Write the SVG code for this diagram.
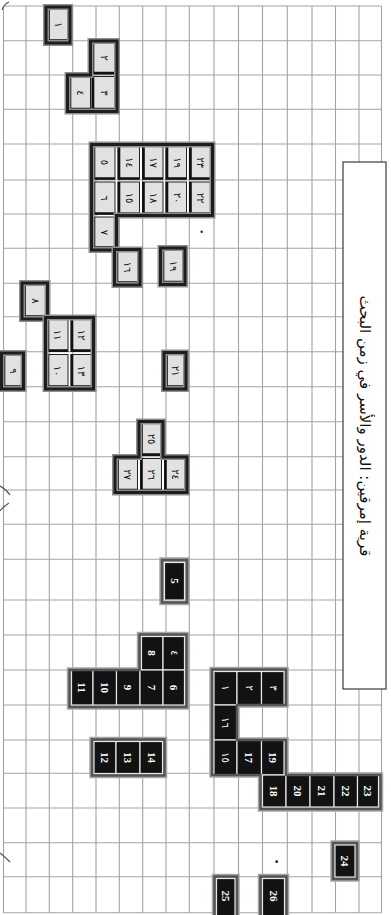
<svg xmlns="http://www.w3.org/2000/svg" width="391" height="915" viewBox="0 0 391 915">
<defs>
<style>
.g line{stroke:#a3a3a3;stroke-width:1.1}
.halo{fill:none;stroke:#8e8e8e;stroke-width:6;stroke-linejoin:miter}
.ob{fill:none;stroke:#1e1e1e;stroke-width:3;stroke-linejoin:miter}
.ct{fill:#e1e1e1;stroke:#222;stroke-width:1}
.sh{fill:none;stroke:#111;stroke-width:2.6}
.hb{fill:none;stroke:#a6a6a6;stroke-width:5.5}
.obb{fill:none;stroke:#555;stroke-width:2.5}
.cb{fill:#121212;stroke:#e8e8e8;stroke-width:1.2}
.ta{font-family:"DejaVu Sans",sans-serif;font-size:10px;fill:#111;text-anchor:middle;dominant-baseline:central}
.tb{font-family:"Liberation Serif",serif;font-weight:bold;font-size:11px;fill:#fff;text-anchor:middle;dominant-baseline:central}
.tbr{font-family:"DejaVu Sans",sans-serif;font-size:10px;fill:#fff;text-anchor:middle;dominant-baseline:central}
.title{font-family:"DejaVu Sans",sans-serif;font-size:15px;fill:#111;text-anchor:middle;dominant-baseline:central}
.mk{fill:none;stroke:#555;stroke-width:1.2}
</style>
</defs>
<rect width="391" height="915" fill="#fff"/>
<g id="grid" class="g">
<line x1="3.5" y1="6" x2="3.5" y2="912.7"/><line x1="26" y1="6" x2="26" y2="912.7"/><line x1="49.3" y1="6" x2="49.3" y2="912.7"/><line x1="72.7" y1="6" x2="72.7" y2="912.7"/><line x1="96" y1="6" x2="96" y2="912.7"/><line x1="119.3" y1="6" x2="119.3" y2="912.7"/><line x1="142.7" y1="6" x2="142.7" y2="912.7"/><line x1="166" y1="6" x2="166" y2="912.7"/><line x1="189.3" y1="6" x2="189.3" y2="912.7"/><line x1="214" y1="6" x2="214" y2="912.7"/><line x1="238.5" y1="6" x2="238.5" y2="912.7"/><line x1="262.5" y1="6" x2="262.5" y2="912.7"/><line x1="287.3" y1="6" x2="287.3" y2="912.7"/><line x1="312" y1="6" x2="312" y2="912.7"/><line x1="335.5" y1="6" x2="335.5" y2="912.7"/><line x1="359" y1="6" x2="359" y2="912.7"/><line x1="381.5" y1="6" x2="381.5" y2="912.7"/>
<line x1="3.5" y1="6" x2="381.5" y2="6"/><line x1="3.5" y1="40.7" x2="381.5" y2="40.7"/><line x1="3.5" y1="75" x2="381.5" y2="75"/><line x1="3.5" y1="109.3" x2="381.5" y2="109.3"/><line x1="3.5" y1="144" x2="381.5" y2="144"/><line x1="3.5" y1="180" x2="381.5" y2="180"/><line x1="3.5" y1="214" x2="381.5" y2="214"/><line x1="3.5" y1="248.3" x2="381.5" y2="248.3"/><line x1="3.5" y1="283.3" x2="381.5" y2="283.3"/><line x1="3.5" y1="316.7" x2="381.5" y2="316.7"/><line x1="3.5" y1="351.7" x2="381.5" y2="351.7"/><line x1="3.5" y1="386.7" x2="381.5" y2="386.7"/><line x1="3.5" y1="421.7" x2="381.5" y2="421.7"/><line x1="3.5" y1="456.7" x2="381.5" y2="456.7"/><line x1="3.5" y1="490" x2="381.5" y2="490"/><line x1="3.5" y1="524.3" x2="381.5" y2="524.3"/><line x1="3.5" y1="559.3" x2="381.5" y2="559.3"/><line x1="3.5" y1="600" x2="381.5" y2="600"/><line x1="3.5" y1="635" x2="381.5" y2="635"/><line x1="3.5" y1="670" x2="381.5" y2="670"/><line x1="3.5" y1="705" x2="381.5" y2="705"/><line x1="3.5" y1="740" x2="381.5" y2="740"/><line x1="3.5" y1="773.3" x2="381.5" y2="773.3"/><line x1="3.5" y1="808" x2="381.5" y2="808"/><line x1="3.5" y1="842.7" x2="381.5" y2="842.7"/><line x1="3.5" y1="876.7" x2="381.5" y2="876.7"/><line x1="3.5" y1="912.7" x2="381.5" y2="912.7"/>
</g>
<g id="marks">
<path class="mk" d="M2,10 Q4,4 9,2"/>
<path class="mk" d="M0,486 Q6,489 10,495"/>
<path class="mk" d="M0,511 Q4,506 9,503"/>
<path class="mk" d="M0,853 Q5,857 10,862"/>
<circle cx="201.7" cy="231.7" r="1.3" fill="#333"/>
<circle cx="276.7" cy="861.7" r="1.4" fill="#222"/>
</g>
<g id="title">
<rect x="343" y="162" width="43" height="527" fill="#fff" stroke="#3a3a3a" stroke-width="1.2"/>
<text class="title" transform="translate(365,426) rotate(90)">قرية إمرقين: الدور والأسر في زمن البحث</text>
</g>
<g id="top-houses">
<g id="h1">
<rect class="ct" x="47.5" y="8.5" width="21" height="33"/><path class="sh" d="M48.5,8.5V40.5H68.5"/>
<path class="halo" d="M46,7H70V43H46Z"/><path class="ob" d="M46,7H70V43H46Z"/>
<text class="ta" transform="translate(58.5,25) rotate(90)">١</text>
</g>
<g id="h2-4">
<rect class="ct" x="92" y="42.5" width="23.5" height="31.5"/><path class="sh" d="M93,42.5V73H115.5"/>
<rect class="ct" x="69" y="76.5" width="21.5" height="33.5"/><path class="sh" d="M70,76.5V109H90.5"/>
<rect class="ct" x="92" y="76.5" width="23.5" height="33.5"/><path class="sh" d="M93,76.5V109H115.5"/>
<path class="halo" d="M90.5,41H117V111.5H67.5V75H90.5Z"/><path class="ob" d="M90.5,41H117V111.5H67.5V75H90.5Z"/>
<text class="ta" transform="translate(104,58) rotate(90)">٢</text>
<text class="ta" transform="translate(80,93) rotate(90)">٤</text>
<text class="ta" transform="translate(104,93) rotate(90)">٣</text>
</g>
<g id="h5-23">
<rect class="ct" x="93" y="146" width="22" height="33"/><path class="sh" d="M94,146V178.5H115"/>
<rect class="ct" x="93" y="182" width="22" height="32"/><path class="sh" d="M94,182V213.5H115"/>
<rect class="ct" x="93" y="217" width="22" height="31.5"/><path class="sh" d="M94,217V247.5H115"/>
<rect class="ct" x="118" y="146" width="21.5" height="33"/><path class="sh" d="M119,146V178.5H139.5"/>
<rect class="ct" x="118" y="182" width="21.5" height="32"/><path class="sh" d="M119,182V213.5H139.5"/>
<rect class="ct" x="142.5" y="146" width="20.5" height="33"/><path class="sh" d="M143.5,146V178.5H163"/>
<rect class="ct" x="142.5" y="182" width="20.5" height="32"/><path class="sh" d="M143.5,182V213.5H163"/>
<rect class="ct" x="166" y="146" width="20.5" height="33"/><path class="sh" d="M167,146V178.5H186.5"/>
<rect class="ct" x="166" y="182" width="20.5" height="32"/><path class="sh" d="M167,182V213.5H186.5"/>
<rect class="ct" x="189.5" y="146" width="21.5" height="33"/><path class="sh" d="M190.5,146V178.5H211"/>
<rect class="ct" x="189.5" y="182" width="21.5" height="32"/><path class="sh" d="M190.5,182V213.5H211"/>
<path class="halo" d="M91.5,144.5H212.5V215.5H116.5V250H91.5Z"/><path class="ob" d="M91.5,144.5H212.5V215.5H116.5V250H91.5Z"/>
<text class="ta" transform="translate(104.5,162.5) rotate(90)">٥</text>
<text class="ta" transform="translate(104.5,198) rotate(90)">٦</text>
<text class="ta" transform="translate(104.5,232.5) rotate(90)">٧</text>
<text class="ta" transform="translate(129.5,162.5) rotate(90)">١٤</text>
<text class="ta" transform="translate(129.5,198) rotate(90)">١٥</text>
<text class="ta" transform="translate(153.5,162.5) rotate(90)">١٧</text>
<text class="ta" transform="translate(153.5,198) rotate(90)">١٨</text>
<text class="ta" transform="translate(177,162.5) rotate(90)">١٩</text>
<text class="ta" transform="translate(177,198) rotate(90)">٢٠</text>
<text class="ta" transform="translate(200.5,162.5) rotate(90)">٢٣</text>
<text class="ta" transform="translate(200.5,198) rotate(90)">٢٢</text>
</g>
<g id="h16">
<rect class="ct" x="116" y="251" width="22.5" height="32.5"/><path class="sh" d="M117,251V282.5H138.5"/>
<path class="halo" d="M114.5,249.5H140V285H114.5Z"/><path class="ob" d="M114.5,249.5H140V285H114.5Z"/>
<text class="ta" transform="translate(127.5,267) rotate(90)">١٦</text>
</g>
<g id="h24a">
<rect class="ct" x="162" y="249.5" width="21.5" height="33.5"/><path class="sh" d="M163,249.5V282H183.5"/>
<path class="halo" d="M160.5,248H185V284.5H160.5Z"/><path class="ob" d="M160.5,248H185V284.5H160.5Z"/>
<text class="ta" transform="translate(173,266) rotate(90)">١٩</text>
</g>
<g id="h8">
<rect class="ct" x="23.5" y="284.5" width="22.5" height="33"/><path class="sh" d="M24.5,284.5V316.5H46"/>
<path class="halo" d="M22,283H47.5V319H22Z"/><path class="ob" d="M22,283H47.5V319H22Z"/>
<text class="ta" transform="translate(35,301) rotate(90)">٨</text>
</g>
<g id="h9">
<rect class="ct" x="3" y="354.5" width="19" height="33"/><path class="sh" d="M4,354.5V386.5H22"/>
<path class="halo" d="M1.5,353H23.5V389H1.5Z"/><path class="ob" d="M1.5,353H23.5V389H1.5Z"/>
<text class="ta" transform="translate(13,371) rotate(90)">٩</text>
</g>
<g id="h10-13">
<rect class="ct" x="47" y="319" width="21" height="32.5"/><path class="sh" d="M48,319V350.5H68"/>
<rect class="ct" x="71" y="319" width="21" height="32.5"/><path class="sh" d="M72,319V350.5H92"/>
<rect class="ct" x="47" y="354.5" width="21" height="33"/><path class="sh" d="M48,354.5V386.5H68"/>
<rect class="ct" x="71" y="354.5" width="21" height="33"/><path class="sh" d="M72,354.5V386.5H92"/>
<path class="halo" d="M45.5,317.5H93.5V389H45.5Z"/><path class="ob" d="M45.5,317.5H93.5V389H45.5Z"/>
<text class="ta" transform="translate(57.5,335) rotate(90)">١١</text>
<text class="ta" transform="translate(81.5,335) rotate(90)">١٢</text>
<text class="ta" transform="translate(57.5,371) rotate(90)">١٠</text>
<text class="ta" transform="translate(81.5,371) rotate(90)">١٣</text>
</g>
<g id="h21">
<rect class="ct" x="165.5" y="354" width="19" height="33.5"/><path class="sh" d="M166.5,354V386.5H184.5"/>
<path class="halo" d="M164,352.5H186V389H164Z"/><path class="ob" d="M164,352.5H186V389H164Z"/>
<text class="ta" transform="translate(175,371) rotate(90)">٢١</text>
</g>
<g id="h24-27">
<rect class="ct" x="140.5" y="423" width="21" height="32.5"/><path class="sh" d="M141.5,423V454.5H161.5"/>
<rect class="ct" x="116.5" y="458.5" width="21" height="32.5"/><path class="sh" d="M117.5,458.5V490H137.5"/>
<rect class="ct" x="140.5" y="458.5" width="21" height="32.5"/><path class="sh" d="M141.5,458.5V490H161.5"/>
<rect class="ct" x="164.5" y="458.5" width="21" height="32.5"/><path class="sh" d="M165.5,458.5V490H185.5"/>
<path class="halo" d="M139,421.5H163V457H187V492.5H115V457H139Z"/><path class="ob" d="M139,421.5H163V457H187V492.5H115V457H139Z"/>
<text class="ta" transform="translate(151,439) rotate(90)">٢٥</text>
<text class="ta" transform="translate(127,474.5) rotate(90)">٢٧</text>
<text class="ta" transform="translate(151,474.5) rotate(90)">٢٦</text>
<text class="ta" transform="translate(175,474.5) rotate(90)">٢٤</text>
</g>
</g>
<g id="bottom-houses">
<g id="b5">
<path class="hb" d="M162,560H187V602.5H162Z"/>
<rect class="cb" x="164.5" y="562.5" width="20" height="37.5"/>
<path class="obb" d="M162,560H187V602.5H162Z"/>
<text class="tb" transform="translate(174.5,581) rotate(90)">5</text>
</g>
<g id="b4-11">
<path class="hb" d="M139.5,634.5H186.5V707H69.5V670H139.5Z"/>
<rect class="cb" x="141.5" y="636.5" width="21.5" height="33.5"/>
<rect class="cb" x="163" y="636.5" width="21.5" height="33.5"/>
<rect class="cb" x="71.5" y="670" width="21.5" height="35"/>
<rect class="cb" x="93" y="670" width="23.5" height="35"/>
<rect class="cb" x="116.5" y="670" width="23.5" height="35"/>
<rect class="cb" x="140" y="670" width="23" height="35"/>
<rect class="cb" x="163" y="670" width="21.5" height="35"/>
<path class="obb" d="M139.5,634.5H186.5V707H69.5V670H139.5Z"/>
<text class="tb" transform="translate(152,653) rotate(90)">8</text>
<text class="tbr" transform="translate(174,653) rotate(90)">٤</text>
<text class="tb" transform="translate(82,687.5) rotate(90)">11</text>
<text class="tb" transform="translate(105,687.5) rotate(90)">10</text>
<text class="tb" transform="translate(128,687.5) rotate(90)">9</text>
<text class="tb" transform="translate(151.5,687.5) rotate(90)">7</text>
<text class="tb" transform="translate(174,687.5) rotate(90)">6</text>
</g>
<g id="b12-14">
<path class="hb" d="M92,739.5H164.5V775.5H92Z"/>
<rect class="cb" x="94" y="741.5" width="22" height="32"/>
<rect class="cb" x="116" y="741.5" width="24" height="32"/>
<rect class="cb" x="140" y="741.5" width="22.5" height="32"/>
<path class="obb" d="M92,739.5H164.5V775.5H92Z"/>
<text class="tb" transform="translate(105,757.5) rotate(90)">12</text>
<text class="tb" transform="translate(128,757.5) rotate(90)">13</text>
<text class="tb" transform="translate(151.5,757.5) rotate(90)">14</text>
</g>
<g id="b1-23">
<path class="hb" d="M212,669.5H286V705H237V740H286V775H380.5V809H260.5V775H212Z"/>
<rect class="cb" x="214" y="671.5" width="23" height="33.5"/>
<rect class="cb" x="237" y="671.5" width="24.5" height="33.5"/>
<rect class="cb" x="261.5" y="671.5" width="22.5" height="33.5"/>
<rect class="cb" x="214" y="705" width="23" height="35"/>
<rect class="cb" x="214" y="740" width="23" height="35"/>
<rect class="cb" x="237" y="740" width="24.5" height="35"/>
<rect class="cb" x="261.5" y="740" width="22.5" height="35"/>
<rect class="cb" x="262.5" y="775" width="23.5" height="32"/>
<rect class="cb" x="286" y="775" width="24" height="32"/>
<rect class="cb" x="310" y="775" width="24" height="32"/>
<rect class="cb" x="334" y="775" width="23.5" height="32"/>
<rect class="cb" x="357.5" y="775" width="21" height="32"/>
<path class="obb" d="M212,669.5H286V705H237V740H286V775H380.5V809H260.5V775H212Z"/>
<text class="tbr" transform="translate(225.5,688) rotate(90)">١</text>
<text class="tbr" transform="translate(249,688) rotate(90)">٢</text>
<text class="tbr" transform="translate(273,688) rotate(90)">٣</text>
<text class="tbr" transform="translate(225.5,722.5) rotate(90)">١٦</text>
<text class="tbr" transform="translate(225.5,757.5) rotate(90)">١٥</text>
<text class="tb" transform="translate(249,757.5) rotate(90)">17</text>
<text class="tb" transform="translate(273,757.5) rotate(90)">19</text>
<text class="tb" transform="translate(274,791) rotate(90)">18</text>
<text class="tb" transform="translate(298,791) rotate(90)">20</text>
<text class="tb" transform="translate(322,791) rotate(90)">21</text>
<text class="tb" transform="translate(345.5,791) rotate(90)">22</text>
<text class="tb" transform="translate(368,791) rotate(90)">23</text>
</g>
<g id="b24">
<path class="hb" d="M333,843H357V879H333Z"/>
<rect class="cb" x="335" y="845" width="20" height="32"/>
<path class="obb" d="M333,843H357V879H333Z"/>
<text class="tb" transform="translate(345,861) rotate(90)">24</text>
</g>
<g id="b25">
<path class="hb" d="M214.5,876.5H237V918H214.5Z"/>
<rect class="cb" x="216.5" y="878.5" width="18.5" height="38"/>
<path class="obb" d="M214.5,876.5H237V918H214.5Z"/>
<text class="tb" transform="translate(225.8,896) rotate(90)">25</text>
</g>
<g id="b26">
<path class="hb" d="M260.5,876.5H286.5V918H260.5Z"/>
<rect class="cb" x="262.5" y="878.5" width="22" height="38"/>
<path class="obb" d="M260.5,876.5H286.5V918H260.5Z"/>
<text class="tb" transform="translate(273.5,896) rotate(90)">26</text>
</g>
</g>
</svg>
